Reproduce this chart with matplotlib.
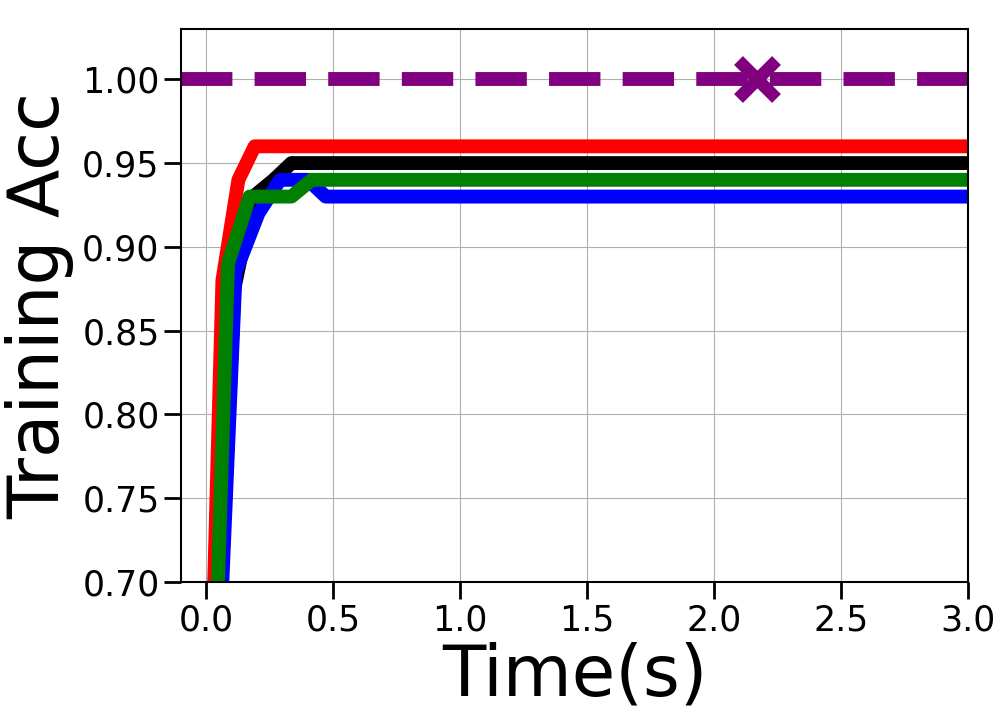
import matplotlib
matplotlib.use("Agg")
import matplotlib.pyplot as plt

# --- data (time in s, training accuracy) ---
red_t = [0.0, 0.063, 0.126, 0.19, 3.1]
red_acc = [0.53, 0.88, 0.94, 0.96, 0.96]

black_t = [0.03, 0.11, 0.185, 0.265, 0.335, 3.1]
black_acc = [0.60, 0.875, 0.93, 0.94, 0.95, 0.95]

blue_t = [0.04, 0.115, 0.205, 0.29, 0.40, 0.47, 3.1]
blue_acc = [0.62, 0.885, 0.92, 0.94, 0.94, 0.93, 0.93]

green_t = [0.0, 0.085, 0.17, 0.25, 0.335, 0.415, 3.1]
green_acc = [0.48, 0.89, 0.93, 0.93, 0.93, 0.94, 0.94]

target_acc = 1.0
best_t = 2.17

xticks = [0.0, 0.5, 1.0, 1.5, 2.0, 2.5, 3.0]
yticks = [0.70, 0.75, 0.80, 0.85, 0.90, 0.95, 1.00]

fig = plt.figure(figsize=(10.08, 7.2), dpi=100)
ax = fig.add_axes([0.1796, 0.1917, 0.7807, 0.768])

ax.plot(red_t, red_acc, color="red", lw=10)
ax.plot(black_t, black_acc, color="black", lw=10)
ax.plot(blue_t, blue_acc, color="blue", lw=10)
ax.plot(green_t, green_acc, color="green", lw=10)
ax.axhline(target_acc, color="purple", lw=10, linestyle="--")
ax.plot([best_t], [target_acc], marker="x", color="purple", ms=28, mew=9)

ax.set_xlim(-0.1, 3.0)
ax.set_ylim(0.70, 1.03)
ax.set_xticks(xticks)
ax.set_yticks(yticks)
ax.set_xticklabels([f"{v:.1f}" for v in xticks])
ax.set_yticklabels([f"{v:.2f}" for v in yticks])
ax.tick_params(labelsize=25, length=12, width=2)
for s in ax.spines.values():
    s.set_linewidth(1.5)
ax.grid(True, color="#b0b0b0", lw=0.8)

ax.set_xlabel("Time(s)", fontsize=51, labelpad=3)
ax.set_ylabel("Training Acc", fontsize=51, labelpad=6)

plt.savefig("out.png", dpi=100)
